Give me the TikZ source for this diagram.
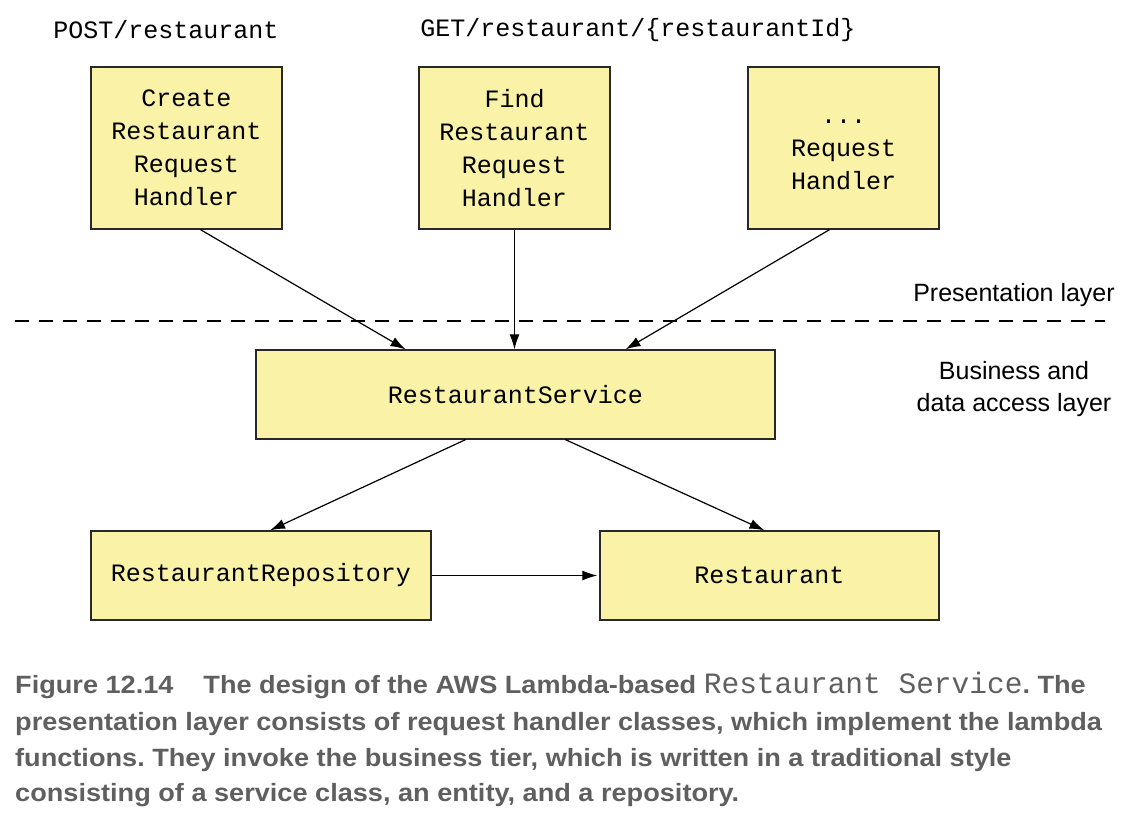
\documentclass[tikz,border=0pt]{standalone}
\usepackage{fontspec}
\setmainfont{Liberation Sans}
\setmonofont{Liberation Mono}
\newfontfamily\capfont{Liberation Sans}[FakeStretch=1.085]
\usetikzlibrary{arrows.meta, positioning}
\definecolor{boxfill}{RGB}{250, 242, 166}
\definecolor{boxline}{RGB}{40, 40, 40}
\definecolor{capgray}{RGB}{95, 95, 95}
\frenchspacing

\begin{document}
\begin{tikzpicture}[x=1pt, y=-1pt,
	box/.style={draw=boxline, line width=1.3pt, fill=boxfill, align=center, inner sep=0pt,
		font=\fontsize{25}{33}\selectfont\ttfamily},
	path/.style={font=\fontsize{25}{33}\selectfont\ttfamily, inner sep=0pt},
	layer/.style={font=\fontsize{25}{32}\selectfont, align=center, inner sep=0pt},
	caption/.style={anchor=base west, inner sep=0pt, text=capgray,
		font=\fontsize{25}{36}\selectfont\capfont\bfseries},
	conn/.style={-{Latex[length=15pt, width=10pt]}, line width=1.2pt}]
	\useasboundingbox (0,0) rectangle (1132,822);
	% request handlers
	\node[box, minimum width=191pt, minimum height=162pt] (create) at (186.5,148) {Create\\Restaurant\\Request\\Handler};
	\node[box, minimum width=191pt, minimum height=162pt] (find) at (514.5,148) {Find\\Restaurant\\Request\\Handler};
	\node[box, minimum width=191pt, minimum height=162pt] (other) at (843.5,148) {\vphantom{R}...\\Request\\Handler};
	\node[path] (post) at (166,30) {POST/restaurant};
	\node[path] (get) at (638,30) {GET/restaurant/\{restaurantId\}};
	% business tier
	\node[box, minimum width=519pt, minimum height=89pt] (service) at (515.5,394.5) {RestaurantService};
	\node[box, minimum width=340pt, minimum height=89pt] (repo) at (261,575.5) {RestaurantRepository};
	\node[box, minimum width=339pt, minimum height=89pt] (entity) at (769.5,575.5) {Restaurant};
	% layers
	\coordinate (dl) at (15,321);
	\coordinate (dr) at (1105,321);
	\draw[line width=1.3pt, dash pattern=on 14pt off 10pt] (dl) -- (dr);
	\node[layer] (pres) at (1014,295) {Presentation layer};
	\node[layer] (biz) at (1014,389) {Business and\\data access layer};
	\draw[conn] ([xshift=14pt]create.south) -- ([xshift=-110pt]service.north);
	\draw[conn] (find.south) -- (find.south |- service.north);
	\draw[conn] ([xshift=-14pt]other.south) -- ([xshift=110pt]service.north);
	\draw[conn] ([xshift=-50pt]service.south) -- ([xshift=9pt]repo.north);
	\draw[conn] ([xshift=50pt]service.south) -- ([xshift=-5pt]entity.north);
	\draw[conn] (repo.east) -- ([xshift=-2pt]entity.west);
	% caption
	\node[caption] (cap1) at (15,693) {Figure 12.14\hspace{1.2em}The design of the AWS Lambda-based {\mdseries\ttfamily\fontsize{29.5}{36}\selectfont Restaurant Service}. The};
	\node[caption] (cap2) at (15,730) {presentation layer consists of request handler classes, which implement the lambda};
	\node[caption] (cap3) at (15,766) {functions. They invoke the business tier, which is written in a traditional style};
	\node[caption] (cap4) at (15,801) {consisting of a service class, an entity, and a repository.};
\end{tikzpicture}
\end{document}
